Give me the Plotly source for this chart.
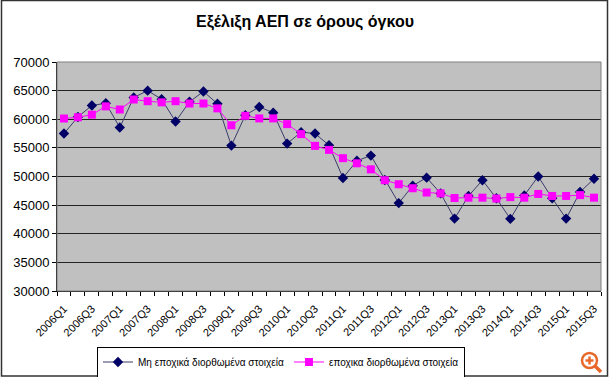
import plotly.graph_objects as go

quarters = [f"{y}Q{q}" for y in range(2006, 2016) for q in range(1, 5)][:39]

non_sa = [57500, 60400, 62400, 62800, 58550, 63800, 65000, 63500, 59600, 63050,
          64850, 62700, 55400, 60700, 62150, 61150, 55750, 57750, 57500, 55450,
          49750, 52750, 53650, 49400, 45350, 48400, 49800, 47050, 42650, 46600,
          49350, 46200, 42600, 46700, 50000, 46200, 42650, 47300, 49600]
sa = [60130, 60350, 60800, 62250, 61700, 63450, 63150, 62950, 63150, 62750,
      62750, 61900, 58950, 60600, 60150, 60150, 59150, 57400, 55350, 54650,
      53200, 52300, 51250, 49350, 48650, 47950, 47200, 47050, 46250, 46300,
      46300, 46150, 46400, 46300, 46950, 46600, 46600, 46750, 46300]

series_names = ["Μη εποχικά διορθωμένα στοιχεία", "εποχικα διορθωμένα στοιχεία"]
title_text = "Εξέλιξη ΑΕΠ σε όρους όγκου"

xidx = list(range(len(quarters)))

fig = go.Figure()
fig.add_trace(go.Scatter(
    x=xidx, y=non_sa, name=series_names[0], mode="lines+markers",
    line=dict(color="#3B3B6B", width=1),
    marker=dict(symbol="diamond", size=8, color="#000066"),
))
fig.add_trace(go.Scatter(
    x=xidx, y=sa, name=series_names[1], mode="lines+markers",
    line=dict(color="#FF00FF", width=1),
    marker=dict(symbol="square", size=8, color="#FF00FF"),
))

W, H = 610, 377
L, R, T, B = 57, 9, 62, 86
pw, ph = W - L - R, H - T - B

def px(x):
    return (x - L) / pw

def py(y):
    return (H - B - y) / ph

fig.update_layout(
    width=W, height=H,
    margin=dict(l=L, r=R, t=T, b=B, autoexpand=False),
    paper_bgcolor="white",
    plot_bgcolor="#C0C0C0",
    font=dict(family="Liberation Sans, Arial, sans-serif", size=11, color="black"),
    title=dict(text="<b>" + title_text + "</b>", x=0.5, xanchor="center",
               xref="container", yref="container",
               y=1 - 21 / H, yanchor="middle",
               font=dict(size=16, family="Liberation Sans, Arial, sans-serif")),
    showlegend=True,
    legend=dict(orientation="h", xref="container", yref="container",
                x=281 / W, xanchor="center", y=1 - 362 / H, yanchor="middle",
                bordercolor="black", borderwidth=1, bgcolor="white",
                font=dict(size=10), itemwidth=30, tracegroupgap=0),
    xaxis=dict(
        range=[-0.5, len(quarters) - 0.5], automargin=False,
        tickmode="array", tickvals=xidx[::2], ticktext=quarters[::2],
        tickangle=-45, ticks="", showgrid=False, zeroline=False,
        showline=True, linecolor="black", linewidth=1,
        tickfont=dict(size=11), ticklabelstandoff=6,
        minor=dict(tickmode="linear", tick0=-0.5, dtick=1, ticks="outside",
                   ticklen=4, tickcolor="black", showgrid=False),
    ),
    yaxis=dict(
        range=[30000, 70000], dtick=5000, tickformat="d", automargin=False,
        showgrid=True, gridcolor="#222222", gridwidth=1,
        ticks="outside", ticklen=4, tickcolor="black",
        showline=True, linecolor="black", linewidth=1, zeroline=False,
        tickfont=dict(size=13),
    ),
    shapes=[
        dict(type="rect", xref="paper", yref="paper",
             x0=px(1.5), x1=px(607.5), y0=py(376), y1=py(0.5),
             line=dict(color="#333333", width=1.5), fillcolor="rgba(0,0,0,0)", layer="below"),
        dict(type="rect", xref="paper", yref="paper",
             x0=0, x1=1, y0=0, y1=1,
             line=dict(color="#808080", width=1), fillcolor="rgba(0,0,0,0)"),
        dict(type="circle", xref="paper", yref="paper",
             x0=px(582), x1=px(597), y0=py(368), y1=py(353),
             line=dict(color="#E8682A", width=2.5), fillcolor="white"),
        dict(type="line", xref="paper", yref="paper",
             x0=px(585.5), x1=px(593.5), y0=py(360.5), y1=py(360.5),
             line=dict(color="#E8682A", width=2.5)),
        dict(type="line", xref="paper", yref="paper",
             x0=px(589.5), x1=px(589.5), y0=py(356.5), y1=py(364.5),
             line=dict(color="#E8682A", width=2.5)),
        dict(type="line", xref="paper", yref="paper",
             x0=px(595), x1=px(601), y0=py(366), y1=py(372),
             line=dict(color="#E8682A", width=3.5)),
    ],
)

fig.write_html("out.html", config={"displayModeBar": False},
               post_script="document.body.style.margin='0';")
